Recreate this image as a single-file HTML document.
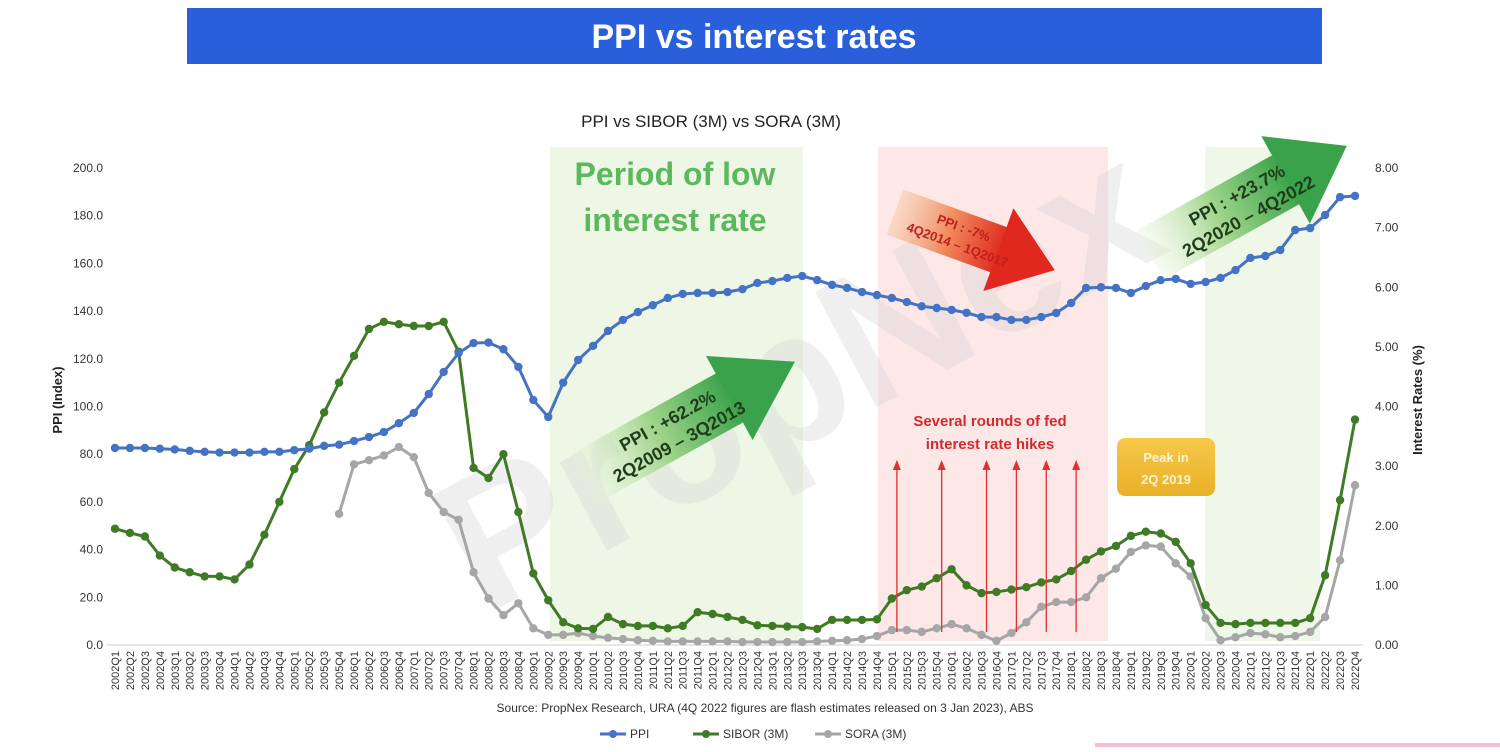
<!DOCTYPE html>
<html><head><meta charset="utf-8"><style>
body{margin:0;background:#fff;width:1500px;height:747px;overflow:hidden;font-family:"Liberation Sans",sans-serif;}
</style></head><body>
<svg id="chart" width="1500" height="747" viewBox="0 0 1500 747" xmlns="http://www.w3.org/2000/svg" font-family="Liberation Sans, sans-serif">
<defs>
<linearGradient id="gGreen" x1="0" x2="1" y1="0" y2="0"><stop offset="0" stop-color="#e4f2d6" stop-opacity="0.3"/><stop offset="0.5" stop-color="#9fd48a"/><stop offset="1" stop-color="#3aa24a"/></linearGradient>
<linearGradient id="gRed" x1="0" x2="1" y1="0" y2="0"><stop offset="0" stop-color="#f6c9a6" stop-opacity="0.5"/><stop offset="0.5" stop-color="#f08a5c"/><stop offset="1" stop-color="#e0281e"/></linearGradient>
<linearGradient id="gPeak" x1="0" x2="0" y1="0" y2="1"><stop offset="0" stop-color="#f7c84a"/><stop offset="1" stop-color="#e9b028"/></linearGradient>
</defs>
<rect x="187" y="8" width="1135" height="56" fill="#2a5fdc"/>
<text x="754" y="48" text-anchor="middle" font-size="34" font-weight="bold" fill="#fff">PPI vs interest rates</text>
<text x="711" y="127" text-anchor="middle" font-size="17" fill="#222">PPI vs SIBOR (3M) vs SORA (3M)</text>
<rect x="550" y="147" width="253" height="494" fill="#eef7e6"/>
<rect x="878" y="147" width="230" height="494" fill="#fde7e7"/>
<rect x="1205" y="147" width="115" height="494" fill="#eff8e8"/>
<text x="800" y="440" text-anchor="middle" font-size="190" font-weight="bold" fill="#d8d8d8" opacity="0.4" transform="rotate(-28 800 380)">PropNex</text>
<g id="axes"></g>
<g id="series"></g>
<text x="675" y="185" text-anchor="middle" font-size="32" font-weight="bold" fill="#5cb85c">Period of low</text>
<text x="675" y="231" text-anchor="middle" font-size="32" font-weight="bold" fill="#5cb85c">interest rate</text>
<g transform="translate(585,478) rotate(-29)">
<rect x="0" y="-28" width="170" height="56" fill="url(#gGreen)"/><polygon points="165,-48 240,0 165,48" fill="#3aa24a"/>
<text x="100" y="-4" text-anchor="middle" font-size="18" font-weight="bold" fill="#1f3d1a">PPI : +62.2%</text>
<text x="100" y="20" text-anchor="middle" font-size="18" font-weight="bold" fill="#1f3d1a">2Q2009 – 3Q2013</text></g>
<g transform="translate(895,212) rotate(20)">
<rect x="0" y="-24" width="115" height="48" fill="url(#gRed)"/><polygon points="110,-44 170,0 110,44" fill="#e0281e"/>
<text x="70" y="-4" text-anchor="middle" font-size="13" font-weight="bold" fill="#c21e1e">PPI : -7%</text>
<text x="70" y="14" text-anchor="middle" font-size="13" font-weight="bold" fill="#c21e1e">4Q2014 – 1Q2017</text></g>
<g transform="translate(1150,255) rotate(-29)">
<rect x="0" y="-28" width="160" height="56" fill="url(#gGreen)"/><polygon points="155,-50 225,0 155,50" fill="#3aa24a"/>
<text x="105" y="-4" text-anchor="middle" font-size="18" font-weight="bold" fill="#1f3d1a">PPI : +23.7%</text>
<text x="105" y="20" text-anchor="middle" font-size="18" font-weight="bold" fill="#1f3d1a">2Q2020 – 4Q2022</text></g>
<text x="990" y="426" text-anchor="middle" font-size="15" font-weight="bold" fill="#d42a2a">Several rounds of fed</text>
<text x="990" y="449" text-anchor="middle" font-size="15" font-weight="bold" fill="#d42a2a">interest rate hikes</text>
<g id="hikes"></g>
<rect x="1117" y="438" width="98" height="58" rx="8" fill="url(#gPeak)"/>
<text x="1166" y="462" text-anchor="middle" font-size="13" font-weight="bold" fill="#fff5d6">Peak in</text>
<text x="1166" y="484" text-anchor="middle" font-size="13" font-weight="bold" fill="#fff5d6">2Q 2019</text>
<text x="765" y="712" text-anchor="middle" font-size="12" fill="#333">Source: PropNex Research, URA (4Q 2022 figures are flash estimates released on 3 Jan 2023), ABS</text>
<g id="legend"></g>
<rect x="1095" y="743" width="405" height="4" fill="#e3408a" opacity="0.35"/>
</svg>
<script>
const ppi=[82.6,82.6,82.6,82.3,82,81.4,81,80.7,80.7,80.7,81,81,81.7,82.3,83.5,84,85.5,87.2,89.3,93,97.3,105.2,114.5,122.4,126.6,126.8,124,116.6,
102.7,95.6,110,119.5,125.4,131.7,136.3,139.6,142.5,145.5,147.2,147.6,147.6,148,149.2,151.8,152.6,153.9,154.7,153,151,149.7,148,146.7,145.5,143.8,142,141.3,140.5,139.3,
137.5,137.5,136.3,136.3,137.5,139.2,143.4,149.7,150,149.7,147.6,150.5,153,153.5,151.4,152.2,153.9,157.2,162.3,163.1,165.6,174,174.8,180.3,187.8,188.3];
const sibor=[1.95,1.88,1.82,1.5,1.3,1.22,1.15,1.15,1.1,1.35,1.85,2.4,2.95,3.35,3.9,4.4,4.85,5.3,5.42,5.38,5.35,5.35,5.42,4.92,2.97,2.8,3.2,2.23,
1.2,0.75,0.38,0.28,0.27,0.47,0.35,0.32,0.32,0.28,0.32,0.55,0.52,0.47,0.42,0.33,0.32,0.31,0.3,0.27,0.42,0.42,0.42,0.43,0.78,0.92,0.98,1.12,1.27,
1.0,0.87,0.89,0.93,0.97,1.05,1.1,1.24,1.43,1.57,1.66,1.83,1.9,1.87,1.73,1.37,0.67,0.37,0.35,0.37,0.37,0.37,0.37,0.45,1.17,2.43,3.78];
const sora=[null,null,null,null,null,null,null,null,null,null,null,null,null,null,null,
2.2,3.03,3.1,3.18,3.32,3.15,2.55,2.23,2.1,1.22,0.78,0.5,0.7,0.28,0.17,
0.17,0.2,0.15,0.12,0.1,0.08,0.07,0.06,0.06,0.06,0.06,0.06,0.05,0.05,0.05,0.05,0.05,0.06,0.07,0.08,0.1,0.15,
0.25,0.25,0.22,0.28,0.35,
0.28,0.17,0.07,0.2,0.38,0.64,0.72,0.72,0.8,1.12,1.28,1.56,1.67,1.65,1.37,1.15,0.45,0.08,0.13,0.2,0.18,0.13,0.15,0.22,0.47,1.42,2.68];
const leftTicks=[0,20,40,60,80,100,120,140,160,180,200];
const rightTicks=[0,1,2,3,4,5,6,7,8];
const hikeQuarters=["2015Q1","2015Q4","2016Q3","2017Q1","2017Q3","2018Q1"];
const categories=[];for(let y=2002;y<=2022;y++)for(let q=1;q<=4;q++)categories.push(y+"Q"+q);
const NS="http://www.w3.org/2000/svg";
const X0=115,X1=1355,Y0=645,Y1=168;
const xs=i=>X0+(X1-X0)*i/(categories.length-1);
const yl=v=>Y0-(Y0-Y1)*v/200;
const yr=v=>Y0-(Y0-Y1)*v/8;
function mk(tag,attrs,parent,txt){const e=document.createElementNS(NS,tag);for(const k in attrs)e.setAttribute(k,attrs[k]);if(txt!==undefined)e.textContent=txt;parent.appendChild(e);return e;}
const axes=document.getElementById('axes');
let ax=mk('line',{x1:X0-8,x2:X1+8,y1:Y0,y2:Y0,stroke:'#ccc'},axes);


leftTicks.forEach(v=>{const t=mk('text',{x:103,y:yl(v)+4,'text-anchor':'end','font-size':12,fill:'#333'},axes,v.toFixed(1));

});
rightTicks.forEach(v=>{const t=mk('text',{x:1375,y:yr(v)+4,'font-size':12,fill:'#333'},axes,v.toFixed(2));

});
let lt=mk('text',{x:62,y:400,'text-anchor':'middle','font-size':13,'font-weight':'bold',fill:'#222',transform:'rotate(-90 62 400)'},axes,'PPI (Index)');


let rt=mk('text',{x:1422,y:400,'text-anchor':'middle','font-size':13,'font-weight':'bold',fill:'#222',transform:'rotate(-90 1422 400)'},axes,'Interest Rates (%)');


categories.forEach((c,i)=>{const x=xs(i)+4;const t=mk('text',{x:x,y:651,'text-anchor':'end','font-size':11,fill:'#333',transform:`rotate(-90 ${x} 651)`},axes,c);

});
const hk=document.getElementById('hikes');
hikeQuarters.forEach(q=>{const x=xs(categories.indexOf(q))+5;
const g=mk('g',{},hk);


mk('line',{x1:x,x2:x,y1:632,y2:468,stroke:'#e03030','stroke-width':1.3},g);
mk('polygon',{points:`${x-4},470 ${x},460 ${x+4},470`,fill:'#e03030'},g);});
const ser=document.getElementById('series');
function drawSeries(arr,yf,color,name){const g=mk('g',{},ser);


let d='',pen=false;arr.forEach((v,i)=>{if(v==null){pen=false;return;}d+=(pen?'L':'M')+xs(i)+','+yf(v);pen=true;});
mk('path',{d:d,fill:'none',stroke:color,'stroke-width':3},g);
arr.forEach((v,i)=>{if(v==null)return;const c=mk('circle',{cx:xs(i),cy:yf(v),r:4.2,fill:color},g);

});}
drawSeries(sora,yr,'#a6a6a6','sora');
drawSeries(sibor,yr,'#3f7a25','sibor');
drawSeries(ppi,yl,'#4472c4','ppi');
const lg=document.getElementById('legend');
[['PPI','#4472c4',600],['SIBOR (3M)','#3f7a25',693],['SORA (3M)','#a6a6a6',815]].forEach(([n,c,x])=>{const g=mk('g',{},lg);


mk('line',{x1:x,x2:x+26,y1:734,y2:734,stroke:c,'stroke-width':3},g);
mk('circle',{cx:x+13,cy:734,r:4,fill:c},g);
mk('text',{x:x+30,y:738,'font-size':12,fill:'#333'},g,n);});
</script>
</body></html>
